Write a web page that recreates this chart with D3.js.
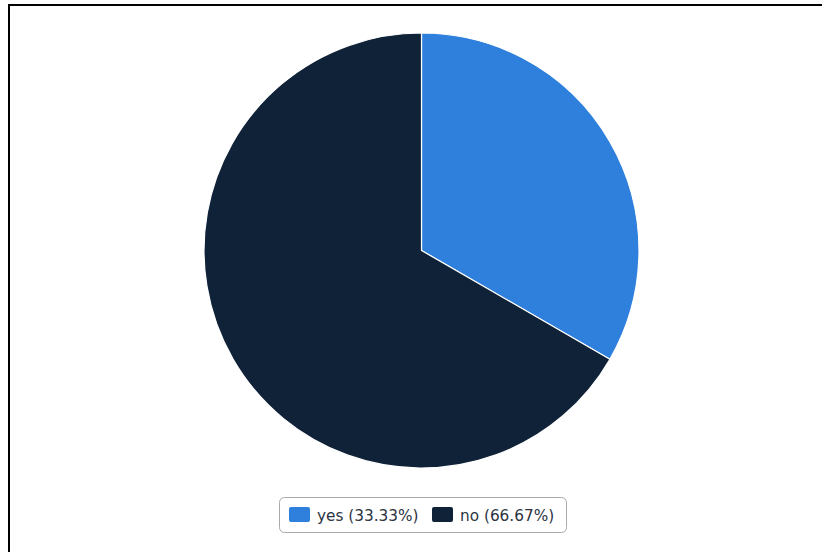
<!DOCTYPE html>
<html><head><meta charset="utf-8">
<script src="https://cdn.jsdelivr.net/npm/d3@7"></script>
<style>html,body{margin:0;padding:0;background:#fff;overflow:hidden;}</style>
</head><body>
<script>
const categories = ["yes", "no"];
const values = [33.33, 66.67];
const colors = ["#2f80dc", "#0f2238"];

const W = 822, H = 552;
const svg = d3.select("body").append("svg").attr("width", W).attr("height", H);

svg.append("rect").attr("x", 9).attr("y", 5).attr("width", W + 20).attr("height", H + 20)
  .attr("fill", "none").attr("stroke", "#000").attr("stroke-width", 2);

const cx = 421.5, cy = 250.5, r = 217.5;
const data = categories.map((c, i) => ({ c, v: values[i], col: colors[i] }));
const pie = d3.pie().value(d => d.v).sort(null);
const arc = d3.arc().innerRadius(0).outerRadius(r);
svg.append("g").attr("transform", `translate(${cx},${cy})`)
  .selectAll("path").data(pie(data)).join("path")
  .attr("d", arc).attr("fill", d => d.data.col)
  .attr("stroke", "#fff").attr("stroke-width", 1.2).attr("stroke-linejoin", "round");

// legend
const lg = svg.append("g");
lg.append("rect").attr("x", 279.5).attr("y", 497.5).attr("width", 287).attr("height", 35)
  .attr("rx", 5).attr("fill", "#fff").attr("stroke", "#aaa").attr("stroke-width", 1);
const items = [{x: 289}, {x: 432}];
data.forEach((d, i) => {
  const x = items[i].x;
  lg.append("rect").attr("x", x).attr("y", 507).attr("width", 21).attr("height", 15)
    .attr("rx", 2).attr("fill", d.col);
  lg.append("text").attr("x", x + 28).attr("y", 520.5)
    .attr("font-family", "DejaVu Sans, sans-serif").attr("font-size", 15.3)
    .attr("fill", "#2b3440")
    .text(`${d.c} (${d.v.toFixed(2)}%)`);
});
</script>
</body></html>
